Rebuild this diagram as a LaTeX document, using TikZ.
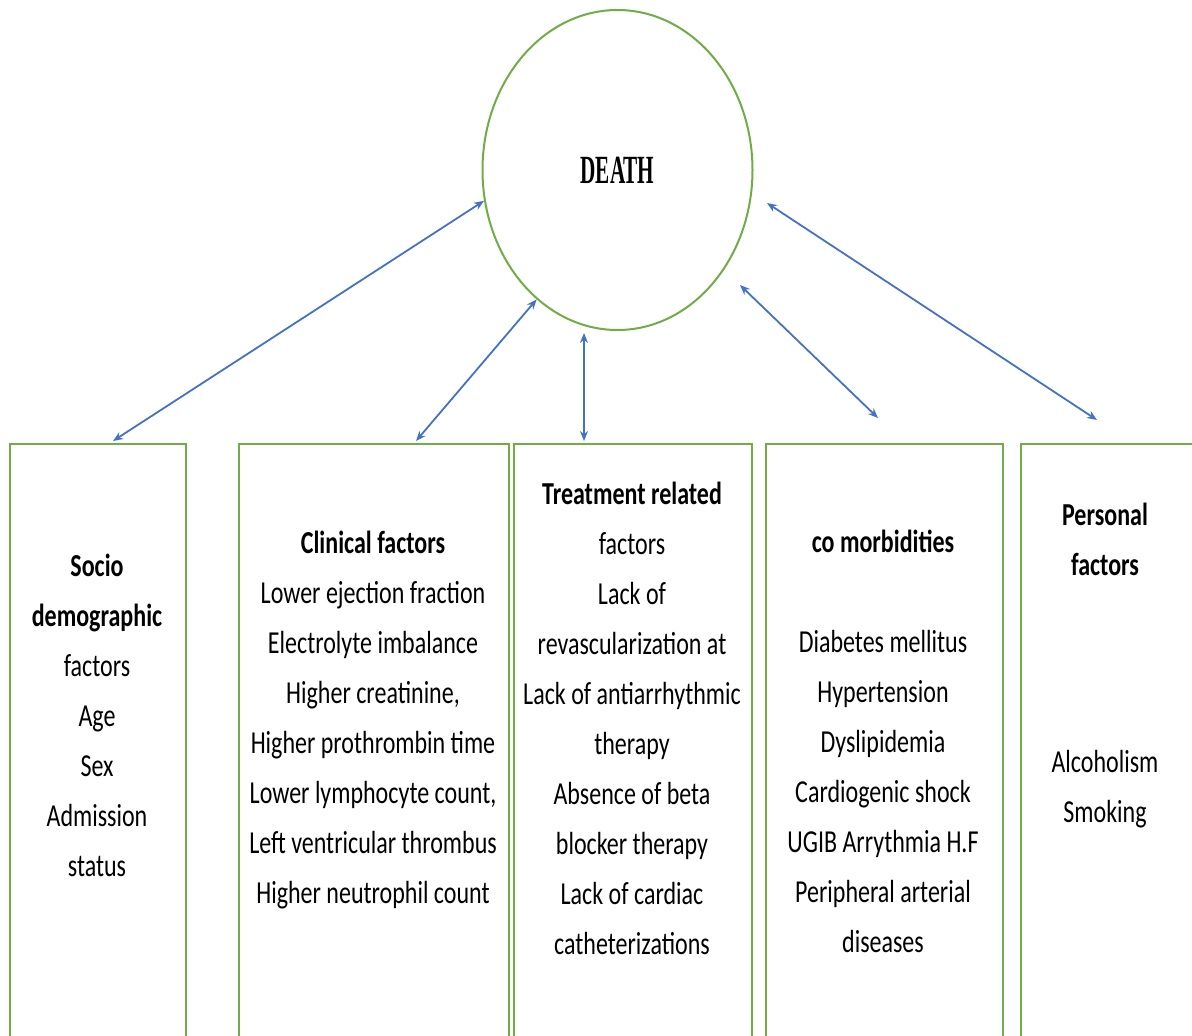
\documentclass[tikz,border=0pt]{standalone}
\usepackage{fontspec}
\newfontfamily\labelfont[FakeStretch=0.75]{Carlito}
\newfontfamily\titlefont[FakeStretch=0.53]{Liberation Serif}
\usetikzlibrary{arrows.meta,shapes.geometric}
\definecolor{framegreen}{HTML}{70AD47}
\definecolor{linkblue}{HTML}{4472C4}

\tikzset{
  factorbox/.style={draw=framegreen, line width=2pt, rectangle, anchor=north west, inner sep=0pt},
  factortext/.style={anchor=north, inner sep=0pt, align=center, text=black,
    font=\labelfont\fontsize{32}{50}\selectfont},
  link/.style={linkblue, line width=1.8pt, {Stealth[length=10pt,width=8pt]}-{Stealth[length=10pt,width=8pt]}}
}

\begin{document}
\begin{tikzpicture}[x=1pt,y=-1pt]
\path[use as bounding box] (0,0) rectangle (1192,1036);
\clip (0,0) rectangle (1192,1036);
\fill[white] (0,0) rectangle (1192,1036);

% central outcome
\node[ellipse, draw=framegreen, line width=2pt, minimum width=270pt, minimum height=320pt, inner sep=0pt,
      font=\titlefont\bfseries\fontsize{40}{44}\selectfont] (death) at (617.5,170) {DEATH};

% factor columns (open at the bottom edge)
\node[factorbox, minimum width=176pt, minimum height=640pt] (sd)   at (9,443) {};
\node[factorbox, minimum width=270pt, minimum height=640pt] (clin) at (238,443) {};
\node[factorbox, minimum width=238pt, minimum height=640pt] (treat) at (513,443) {};
\node[factorbox, minimum width=237pt, minimum height=640pt] (como) at (765,443) {};
\node[factorbox, minimum width=240pt, minimum height=640pt] (pers) at (1020,443) {};

% column texts
\node[factortext] (sdtext) at (97,554) {\textbf{Socio}\\\textbf{demographic}\\factors\\Age\\Sex\\Admission\\status};
\node[factortext] (clintext) at (373,531) {\textbf{Clinical factors}\\Lower ejection fraction\\Electrolyte imbalance\\Higher creatinine,\\Higher prothrombin time\\Lower lymphocyte count,\\Left ventricular thrombus\\Higher neutrophil count};
\node[factortext] (treattext) at (632,482) {\textbf{Treatment related}\\factors\\Lack of\\revascularization at\\Lack of antiarrhythmic\\therapy\\Absence of beta\\blocker therapy\\Lack of cardiac\\catheterizations};
\node[factortext] (comotext) at (883,530) {\textbf{co morbidities}\\[50pt]Diabetes mellitus\\Hypertension\\Dyslipidemia\\Cardiogenic shock\\UGIB Arrythmia H.F\\Peripheral arterial\\diseases};
\node[factortext] (perstext) at (1105,503) {\textbf{Personal}\\\textbf{factors}\\[147pt]Alcoholism\\Smoking};

% arrow ends
\coordinate (t1) at (113,441);
\coordinate (t2) at (416,441);
\coordinate (t3) at (584,441);
\coordinate (t4) at (878,418);
\coordinate (t5) at (1097,420);
\coordinate (d3) at (584,333);
\coordinate (d4) at (740,285);
\coordinate (d5) at (767,203);

% links between outcome and factors
\draw[link] (death.193.8) -- (t1);
\draw[link] (death.238.9) -- (t2);
\draw[link] (d3) -- (t3);
\draw[link] (d4) -- (t4);
\draw[link] (d5) -- (t5);
\end{tikzpicture}
\end{document}
